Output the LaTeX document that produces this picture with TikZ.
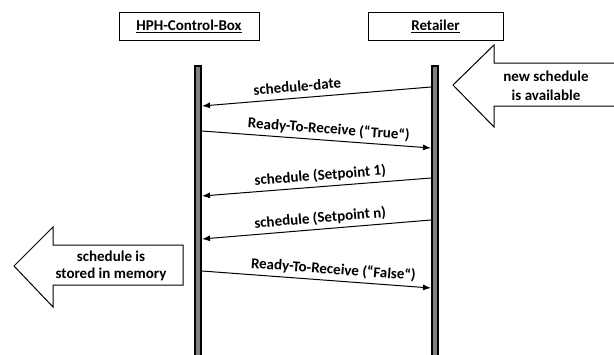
\documentclass[tikz,border=0pt]{standalone}
\usepackage{fontspec}
\setmainfont{Carlito}
\usetikzlibrary{arrows.meta}

\tikzset{
  headbox/.style={draw=black, line width=1pt, fill=white, minimum width=140pt, minimum height=28pt, inner sep=0pt},
  lifeline/.style={draw=black, line width=2pt, fill=black!50, minimum width=6pt, inner sep=0pt},
  msg/.style={line width=1pt, -{Latex[length=8pt,width=6pt]}},
  msglabel/.style={sloped, anchor=south, inner xsep=0pt, inner ysep=6pt, text depth=0pt},
  blockarrow/.style={draw=black, line width=1pt, fill=white, line join=miter},
  notetext/.style={align=center, inner sep=0pt}
}

\begin{document}
\begin{tikzpicture}[x=1pt, y=-1pt, font=\fontsize{15}{19}\selectfont\bfseries]
  \useasboundingbox (0,0) rectangle (614,354);
  \clip (0,0) rectangle (614,354);
  \fill[white] (0,0) rectangle (614,354);

  % participants
  \node[headbox] (hph) at (189,26) {\underline{HPH-Control-Box}};
  \node[headbox, minimum width=135pt] (ret) at (435.5,26) {\underline{Retailer}};

  % lifelines
  \node[lifeline, minimum height=300pt, anchor=north] (L) at (198,65) {};
  \node[lifeline, minimum height=300pt, anchor=north] (R) at (435,65) {};

  % message end points on the lifelines
  \coordinate (r1) at (R.west |- 0,87);
  \coordinate (l1) at (L.east |- 0,106);
  \coordinate (l2) at (L.east |- 0,131);
  \coordinate (r2) at (R.west |- 0,148);
  \coordinate (r3) at (R.west |- 0,178);
  \coordinate (l3) at (L.east |- 0,196);
  \coordinate (r4) at (R.west |- 0,220);
  \coordinate (l4) at (L.east |- 0,239);
  \coordinate (l5) at (L.east |- 0,271);
  \coordinate (r5) at (R.west |- 0,288);

  % messages
  \draw[msg] (r1) -- node[msglabel, pos=0.58] {schedule-date} (l1);
  \draw[msg] (l2) -- node[msglabel, pos=0.55] {Ready-To-Receive (“True“)} (r2);
  \draw[msg] (r3) -- node[msglabel, pos=0.48] {schedule (Setpoint 1)} (l3);
  \draw[msg] (r4) -- node[msglabel, pos=0.48] {schedule (Setpoint n)} (l4);
  \draw[msg] (l5) -- node[msglabel, pos=0.57] {Ready-To-Receive (“False“)} (r5);

  % block arrow: new schedule
  \draw[blockarrow] (620,63) -- (494,63) -- (494,45) -- (453,85)
        -- (494,127) -- (494,106) -- (620,106);
  \node[notetext] (newsched) at (546,86) {new schedule\\is available};

  % block arrow: stored in memory
  \draw[blockarrow] (183,245) -- (53,245) -- (53,227) -- (14,266)
        -- (53,307) -- (53,285) -- (183,285) -- cycle;
  \node[notetext, font=\fontsize{15}{16.5}\selectfont\bfseries] (stored) at (111,266) {schedule is\\stored in memory};
\end{tikzpicture}
\end{document}
